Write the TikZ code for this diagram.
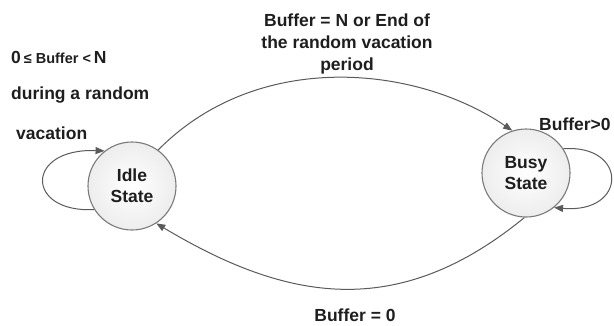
\documentclass[tikz,border=0pt]{standalone}
\usepackage{fontspec}
\setmainfont{Liberation Sans}
\usetikzlibrary{arrows.meta}
\definecolor{inkc}{HTML}{1E1E1E}
\definecolor{edgec}{HTML}{5A5A5A}
\definecolor{rimc}{HTML}{7A7A7A}
\begin{document}
\begin{tikzpicture}[x=1pt,y=-1pt,
  state/.style={circle,draw=rimc,line width=1.1pt,minimum size=88pt,inner sep=0pt,
    shading=radial,inner color=white,outer color=gray!14,
    align=center,text=inkc,font=\fontsize{17.5}{21}\selectfont\bfseries},
  lbl/.style={text=inkc,font=\fontsize{17.5}{22}\selectfont\bfseries,inner sep=0pt},
  trans/.style={draw=edgec,line width=1pt,-{Triangle[length=9pt,width=7pt]}}]
\useasboundingbox (0,0) rectangle (614,325);

% states
\node[state] (idle) at (132,186) {Idle\\State};
\node[state] (busy) at (526,173) {Busy\\State};

% anchor points for the connectors
\coordinate (idleOut) at (idle.54);
\coordinate (idleIn) at (idle.-57);
\coordinate (busyIn) at (busy.108);
\coordinate (busyOut) at (busy.-92);

% transitions between the states
\draw[trans] (idleOut) .. controls (258,49) and (416,65) .. (busyIn);
\draw[trans] (busyOut) .. controls (397,322) and (286,301) .. (idleIn);

% self loops
\draw[trans] (idle.212) .. controls (25,213) and (25,148) .. (idle.128);
\draw[trans] (busy.33) .. controls (628,144) and (628,214) .. (busy.-51);

% labels
\node[lbl,anchor=west] (l1) at (11,57) {0\,{\fontsize{14.5}{17}\selectfont ≤ Buffer <}\,N};
\node[lbl,anchor=west] (l2) at (11,95) {during a random};
\node[lbl,anchor=west] (l3) at (16,133) {vacation};
\node[lbl,align=center] (ltop) at (347,44) {Buffer = N or End of\\the random vacation\\period};
\node[lbl,anchor=west] (lloop) at (539,124) {Buffer>0};
\node[lbl] (lbot) at (355,315) {Buffer = 0};
\end{tikzpicture}
\end{document}
